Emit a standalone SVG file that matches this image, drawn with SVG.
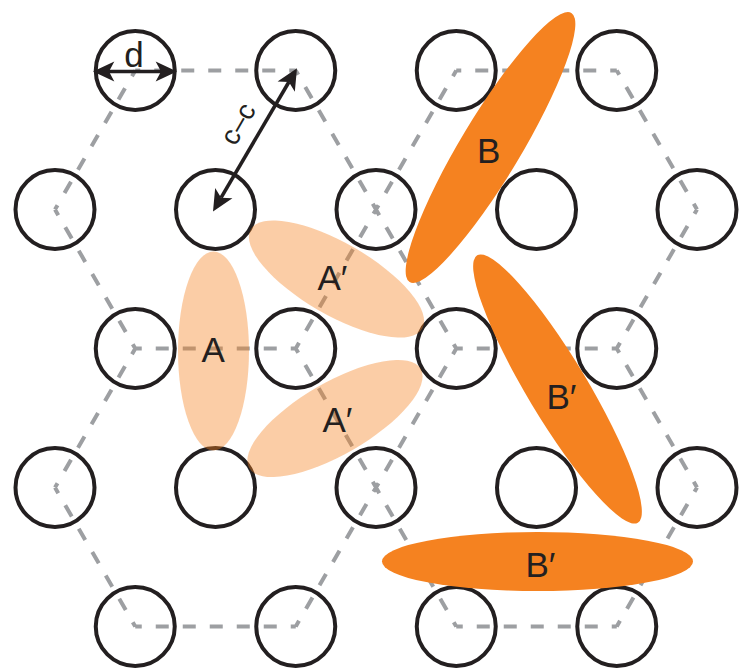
<svg xmlns="http://www.w3.org/2000/svg" width="742" height="669" viewBox="0 0 742 669">
<style>
.lat{fill:none;stroke:#9D9FA2;stroke-width:4;stroke-dasharray:13 14;stroke-dashoffset:8}
.site{fill:none;stroke:#231F20;stroke-width:4}
.light{fill:#F58220;fill-opacity:0.4}
.dark{fill:#F58220}
.lbl{font-family:"Liberation Sans",Arial,sans-serif;font-size:35px;fill:#231F20}
.dim{fill:none;stroke:#231F20;stroke-width:3.6;marker-start:url(#ah);marker-end:url(#ah)}
</style>
<defs>
<marker id="ah" markerUnits="userSpaceOnUse" orient="auto-start-reverse" refX="0" refY="0" markerWidth="40" markerHeight="40" viewBox="-10 -10 30 20" overflow="visible">
<path d="M12,0 L-4,-7.5 L0,0 L-4,7.5 Z" fill="#231F20"/>
</marker>
</defs>
<g id="connectors">
<path class="lat" d="M135.25 70.5 L295.75 70.5 M295.75 70.5 L376 209.5 M376 209.5 L295.75 348.5 M295.75 348.5 L135.25 348.5 M135.25 348.5 L55 209.5 M55 209.5 L135.25 70.5
M295.75 348.5 L376 487.5 M376 487.5 L295.75 626.5 M295.75 626.5 L135.25 626.5 M135.25 626.5 L55 487.5 M55 487.5 L135.25 348.5
M456.25 70.5 L616.75 70.5 M616.75 70.5 L697 209.5 M697 209.5 L616.75 348.5 M616.75 348.5 L456.25 348.5 M456.25 348.5 L376 209.5 M376 209.5 L456.25 70.5
M616.75 348.5 L697 487.5 M697 487.5 L616.75 626.5 M616.75 626.5 L456.25 626.5 M456.25 626.5 L376 487.5 M376 487.5 L456.25 348.5"/>
</g>
<g id="sites">
<g id="s1-1"><circle class="site" cx="135.25" cy="70.5" r="39.5"/></g>
<g id="s1-2"><circle class="site" cx="295.75" cy="70.5" r="39.5"/></g>
<g id="s1-3"><circle class="site" cx="456.25" cy="70.5" r="39.5"/></g>
<g id="s1-4"><circle class="site" cx="616.75" cy="70.5" r="39.5"/></g>
<g id="s2-1"><circle class="site" cx="55" cy="209.5" r="39.5"/></g>
<g id="s2-2"><circle class="site" cx="215.5" cy="209.5" r="39.5"/></g>
<g id="s2-3"><circle class="site" cx="376" cy="209.5" r="39.5"/></g>
<g id="s2-4"><circle class="site" cx="536.5" cy="209.5" r="39.5"/></g>
<g id="s2-5"><circle class="site" cx="697" cy="209.5" r="39.5"/></g>
<g id="s3-1"><circle class="site" cx="135.25" cy="348.5" r="39.5"/></g>
<g id="s3-2"><circle class="site" cx="295.75" cy="348.5" r="39.5"/></g>
<g id="s3-3"><circle class="site" cx="456.25" cy="348.5" r="39.5"/></g>
<g id="s3-4"><circle class="site" cx="616.75" cy="348.5" r="39.5"/></g>
<g id="s4-1"><circle class="site" cx="55" cy="487.5" r="39.5"/></g>
<g id="s4-2"><circle class="site" cx="215.5" cy="487.5" r="39.5"/></g>
<g id="s4-3"><circle class="site" cx="376" cy="487.5" r="39.5"/></g>
<g id="s4-4"><circle class="site" cx="536.5" cy="487.5" r="39.5"/></g>
<g id="s4-5"><circle class="site" cx="697" cy="487.5" r="39.5"/></g>
<g id="s5-1"><circle class="site" cx="135.25" cy="626.5" r="39.5"/></g>
<g id="s5-2"><circle class="site" cx="295.75" cy="626.5" r="39.5"/></g>
<g id="s5-3"><circle class="site" cx="456.25" cy="626.5" r="39.5"/></g>
<g id="s5-4"><circle class="site" cx="616.75" cy="626.5" r="39.5"/></g>
</g>
<g id="dimer-A"><ellipse class="light" cx="213.5" cy="351" rx="35.5" ry="99.5"/><text class="lbl" x="201.5" y="362">A</text></g>
<g id="dimer-A1"><ellipse class="light" cx="0" cy="0" rx="99" ry="36" transform="translate(336.5 279) rotate(30)"/><text class="lbl" x="317.5" y="290">A′</text></g>
<g id="dimer-A2"><ellipse class="light" cx="0" cy="0" rx="99" ry="36" transform="translate(335 418.5) rotate(-30)"/><text class="lbl" x="322.5" y="432">A′</text></g>
<g id="dimer-B"><ellipse class="dark" cx="0" cy="0" rx="157" ry="30" transform="translate(490.5 147.5) rotate(-59)"/><text class="lbl" x="477" y="163">B</text></g>
<g id="dimer-B1"><ellipse class="dark" cx="0" cy="0" rx="156" ry="30" transform="translate(557.5 389) rotate(59)"/><text class="lbl" x="546.5" y="409">B′</text></g>
<g id="dimer-B2"><ellipse class="dark" cx="537.5" cy="561.5" rx="155.5" ry="29.5"/><text class="lbl" x="525.5" y="577">B′</text></g>
<g id="dimensions">
<line class="dim" x1="109" y1="71.5" x2="161" y2="71.5"/>
<text class="lbl" x="134" y="67" text-anchor="middle">d</text>
<line class="dim" x1="221.1" y1="197.7" x2="288.9" y2="82"/>
<text class="lbl" style="font-size:27.5px" text-anchor="middle" transform="translate(246 128.5) rotate(-60)">c–c</text>
</g>
</svg>
